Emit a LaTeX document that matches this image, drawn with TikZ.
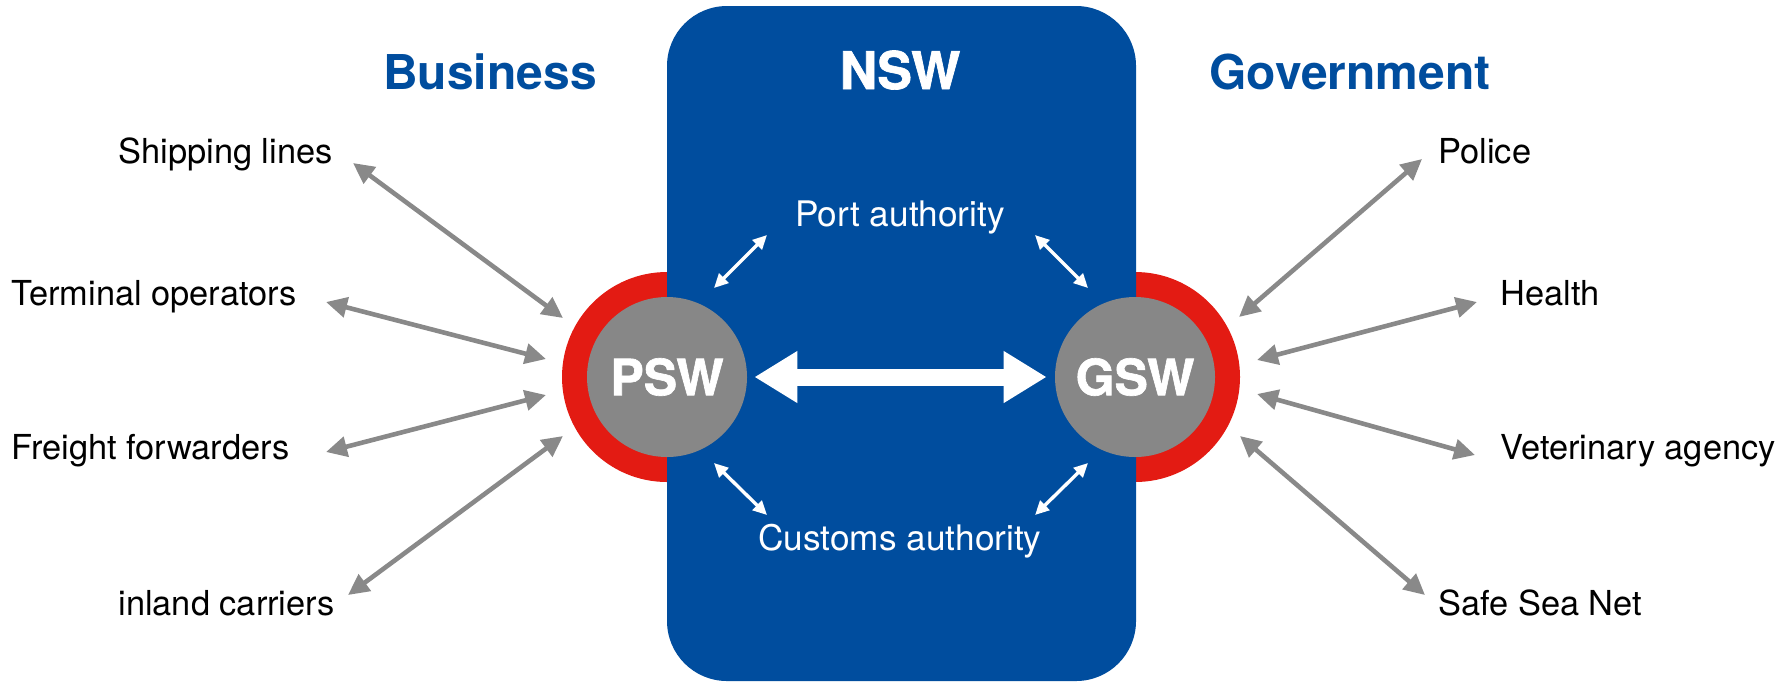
\documentclass[tikz,border=0pt]{standalone}
\usepackage{fontspec}
\setmainfont{TeX Gyre Heros}
\newfontfamily\heavyfont{texgyreheros-bold.otf}[FakeBold=1.3]
\usetikzlibrary{arrows.meta}
\definecolor{nswblue}{RGB}{0,77,158}
\definecolor{ringred}{RGB}{227,27,19}
\definecolor{discgray}{RGB}{135,135,135}
\definecolor{arrowgray}{RGB}{137,137,137}
\tikzset{
  lbl/.style={inner sep=0pt, font=\fontsize{17.2}{20}\selectfont, text=black},
  inlbl/.style={inner sep=0pt, font=\fontsize{17.6}{20}\selectfont, text=white},
  title/.style={inner sep=0pt, font=\fontsize{24}{28}\selectfont\bfseries},
  heavytitle/.style={inner sep=0pt, font=\fontsize{26}{30}\heavyfont},
  disc/.style={circle, fill=discgray, minimum size=80pt, inner sep=0pt, text=white, font=\fontsize{25}{30}\heavyfont},
  ring/.style={circle, fill=ringred, minimum size=105pt, inner sep=0pt},
  grayarrow/.style={draw=arrowgray, line width=2.3pt, {Triangle[length=10.5pt,width=10pt]}-{Triangle[length=10.5pt,width=10pt]}},
  whitearrow/.style={draw=white, line width=1.7pt, {Triangle[length=7pt,width=6.5pt]}-{Triangle[length=7pt,width=6.5pt]}},
  bigarrow/.style={draw=white, line width=8.5pt, {Triangle[length=21.5pt,width=24.5pt]}-{Triangle[length=21.5pt,width=24.5pt]}}
}
\begin{document}
\begin{tikzpicture}[x=0.5pt,y=-0.5pt]
\useasboundingbox (0,0) rectangle (1786,682);
% red rings
\node[ring] (pswring) at (667,377) {};
\node[ring] (gswring) at (1135,377) {};
% NSW box
\fill[nswblue, rounded corners=30pt] (667,6) rectangle (1136,681);
% discs
\node[disc] (psw) at (667,377) {PSW};
\node[disc] (gsw) at (1135,377) {GSW};
% titles
\node[title, text=nswblue, anchor=base] (business) at (490,89) {Business};
\node[heavytitle, text=white, anchor=base] (nsw) at (900,89) {NSW};
\node[title, text=nswblue, anchor=base] (government) at (1350,89) {Government};
% inner labels
\node[inlbl, anchor=base] (port) at (900,226) {Port authority};
\node[inlbl, anchor=base] (customs) at (900,550) {Customs authority};
% left labels
\node[lbl, anchor=base west] (ship) at (118,163) {Shipping lines};
\node[lbl, anchor=base west] (term) at (11,305) {Terminal operators};
\node[lbl, anchor=base west] (freight) at (11,459) {Freight forwarders};
\node[lbl, anchor=base west] (inland) at (118,615) {inland carriers};
% right labels
\node[lbl, anchor=base west] (police) at (1438,163) {Police};
\node[lbl, anchor=base west] (health) at (1500,305) {Health};
\node[lbl, anchor=base west] (vet) at (1500,459) {Veterinary agency};
\node[lbl, anchor=base west] (ssn) at (1438,615) {Safe Sea Net};
% arrow end coordinates
\coordinate (s1) at (353,163); \coordinate (s2) at (563,318);
\coordinate (t1) at (326,302); \coordinate (t2) at (546,359);
\coordinate (f1) at (326,452); \coordinate (f2) at (546,395);
\coordinate (i1) at (348,595); \coordinate (i2) at (563,436);
\coordinate (p1) at (1239,317); \coordinate (p2) at (1422,159);
\coordinate (h1) at (1257,360); \coordinate (h2) at (1477,302);
\coordinate (v1) at (1257,394); \coordinate (v2) at (1475,455);
\coordinate (n1) at (1240,436); \coordinate (n2) at (1425,595);
\coordinate (pa1) at (714,288); \coordinate (pa2) at (767,235);
\coordinate (pb1) at (1035,235); \coordinate (pb2) at (1088,288);
\coordinate (ca1) at (714,463); \coordinate (ca2) at (767,515);
\coordinate (cb1) at (1035,515); \coordinate (cb2) at (1088,463);
% gray arrows
\draw[grayarrow] (s1) -- (s2);
\draw[grayarrow] (t1) -- (t2);
\draw[grayarrow] (f1) -- (f2);
\draw[grayarrow] (i1) -- (i2);
\draw[grayarrow] (p1) -- (p2);
\draw[grayarrow] (h1) -- (h2);
\draw[grayarrow] (v1) -- (v2);
\draw[grayarrow] (n1) -- (n2);
% white small arrows
\draw[whitearrow] (pa1) -- (pa2);
\draw[whitearrow] (pb1) -- (pb2);
\draw[whitearrow] (ca1) -- (ca2);
\draw[whitearrow] (cb1) -- (cb2);
% big arrow
\draw[bigarrow, shorten <=3.5pt, shorten >=4pt] (psw.east) -- (gsw.west);
\end{tikzpicture}
\end{document}
